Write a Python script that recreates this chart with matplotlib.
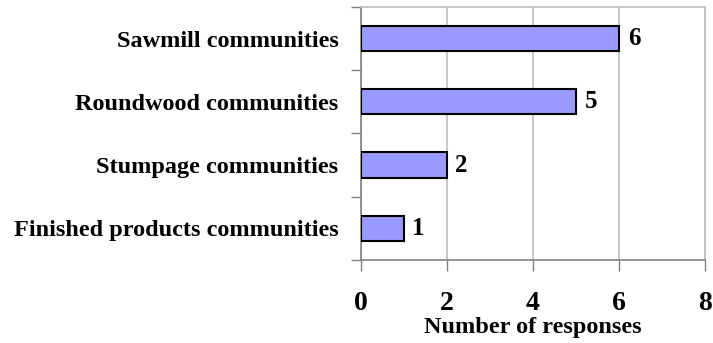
import matplotlib.pyplot as plt
from matplotlib.ticker import FixedLocator, NullFormatter

categories = ["Finished products communities", "Stumpage communities",
              "Roundwood communities", "Sawmill communities"]
responses = [1, 2, 5, 6]
x_ticks = [0, 2, 4, 6, 8]

plt.rcParams['font.family'] = ['Liberation Serif', 'DejaVu Serif']
plt.rcParams['font.weight'] = 'bold'

fig = plt.figure(figsize=(7.13, 3.43), dpi=100)
ax = fig.add_axes([0.506, 0.242, 0.483, 0.738])

pos = list(range(len(categories)))
ax.barh(pos, responses, height=0.4, color='#9999FF', edgecolor='black', linewidth=1.5, zorder=3)

# value labels at bar ends
for p, v in zip(pos, responses):
    ax.text(v + 0.2, p, str(v), va='center', ha='left', fontsize=18, fontweight='bold')

ax.set_xlim(0, 8)
ax.set_ylim(-0.5, len(categories) - 0.5)
ax.set_xticks(x_ticks)
ax.set_xticklabels([str(t) for t in x_ticks], fontsize=20, fontweight='bold')
ax.set_yticks(pos)
ax.set_yticklabels(categories, fontsize=17.5, fontweight='bold')
ax.yaxis.set_minor_locator(FixedLocator([i - 0.5 for i in range(len(categories) + 1)]))
ax.yaxis.set_minor_formatter(NullFormatter())
ax.tick_params(axis='y', which='major', length=0, pad=16)
ax.tick_params(axis='y', which='minor', length=7, color='#808080', width=1)
ax.tick_params(axis='x', which='major', length=8, color='#808080', width=1, pad=14)

ax.grid(axis='x', color='#BFBFBF', linewidth=1.2, zorder=0)
for s in ax.spines.values():
    s.set_color('#808080')
    s.set_linewidth(1.2)
ax.spines['top'].set_color('#BFBFBF')
ax.spines['right'].set_color('#BFBFBF')

ax.set_xlabel("Number of responses", fontsize=17.5, fontweight='bold', labelpad=1)

fig.savefig('out.png', dpi=100)
